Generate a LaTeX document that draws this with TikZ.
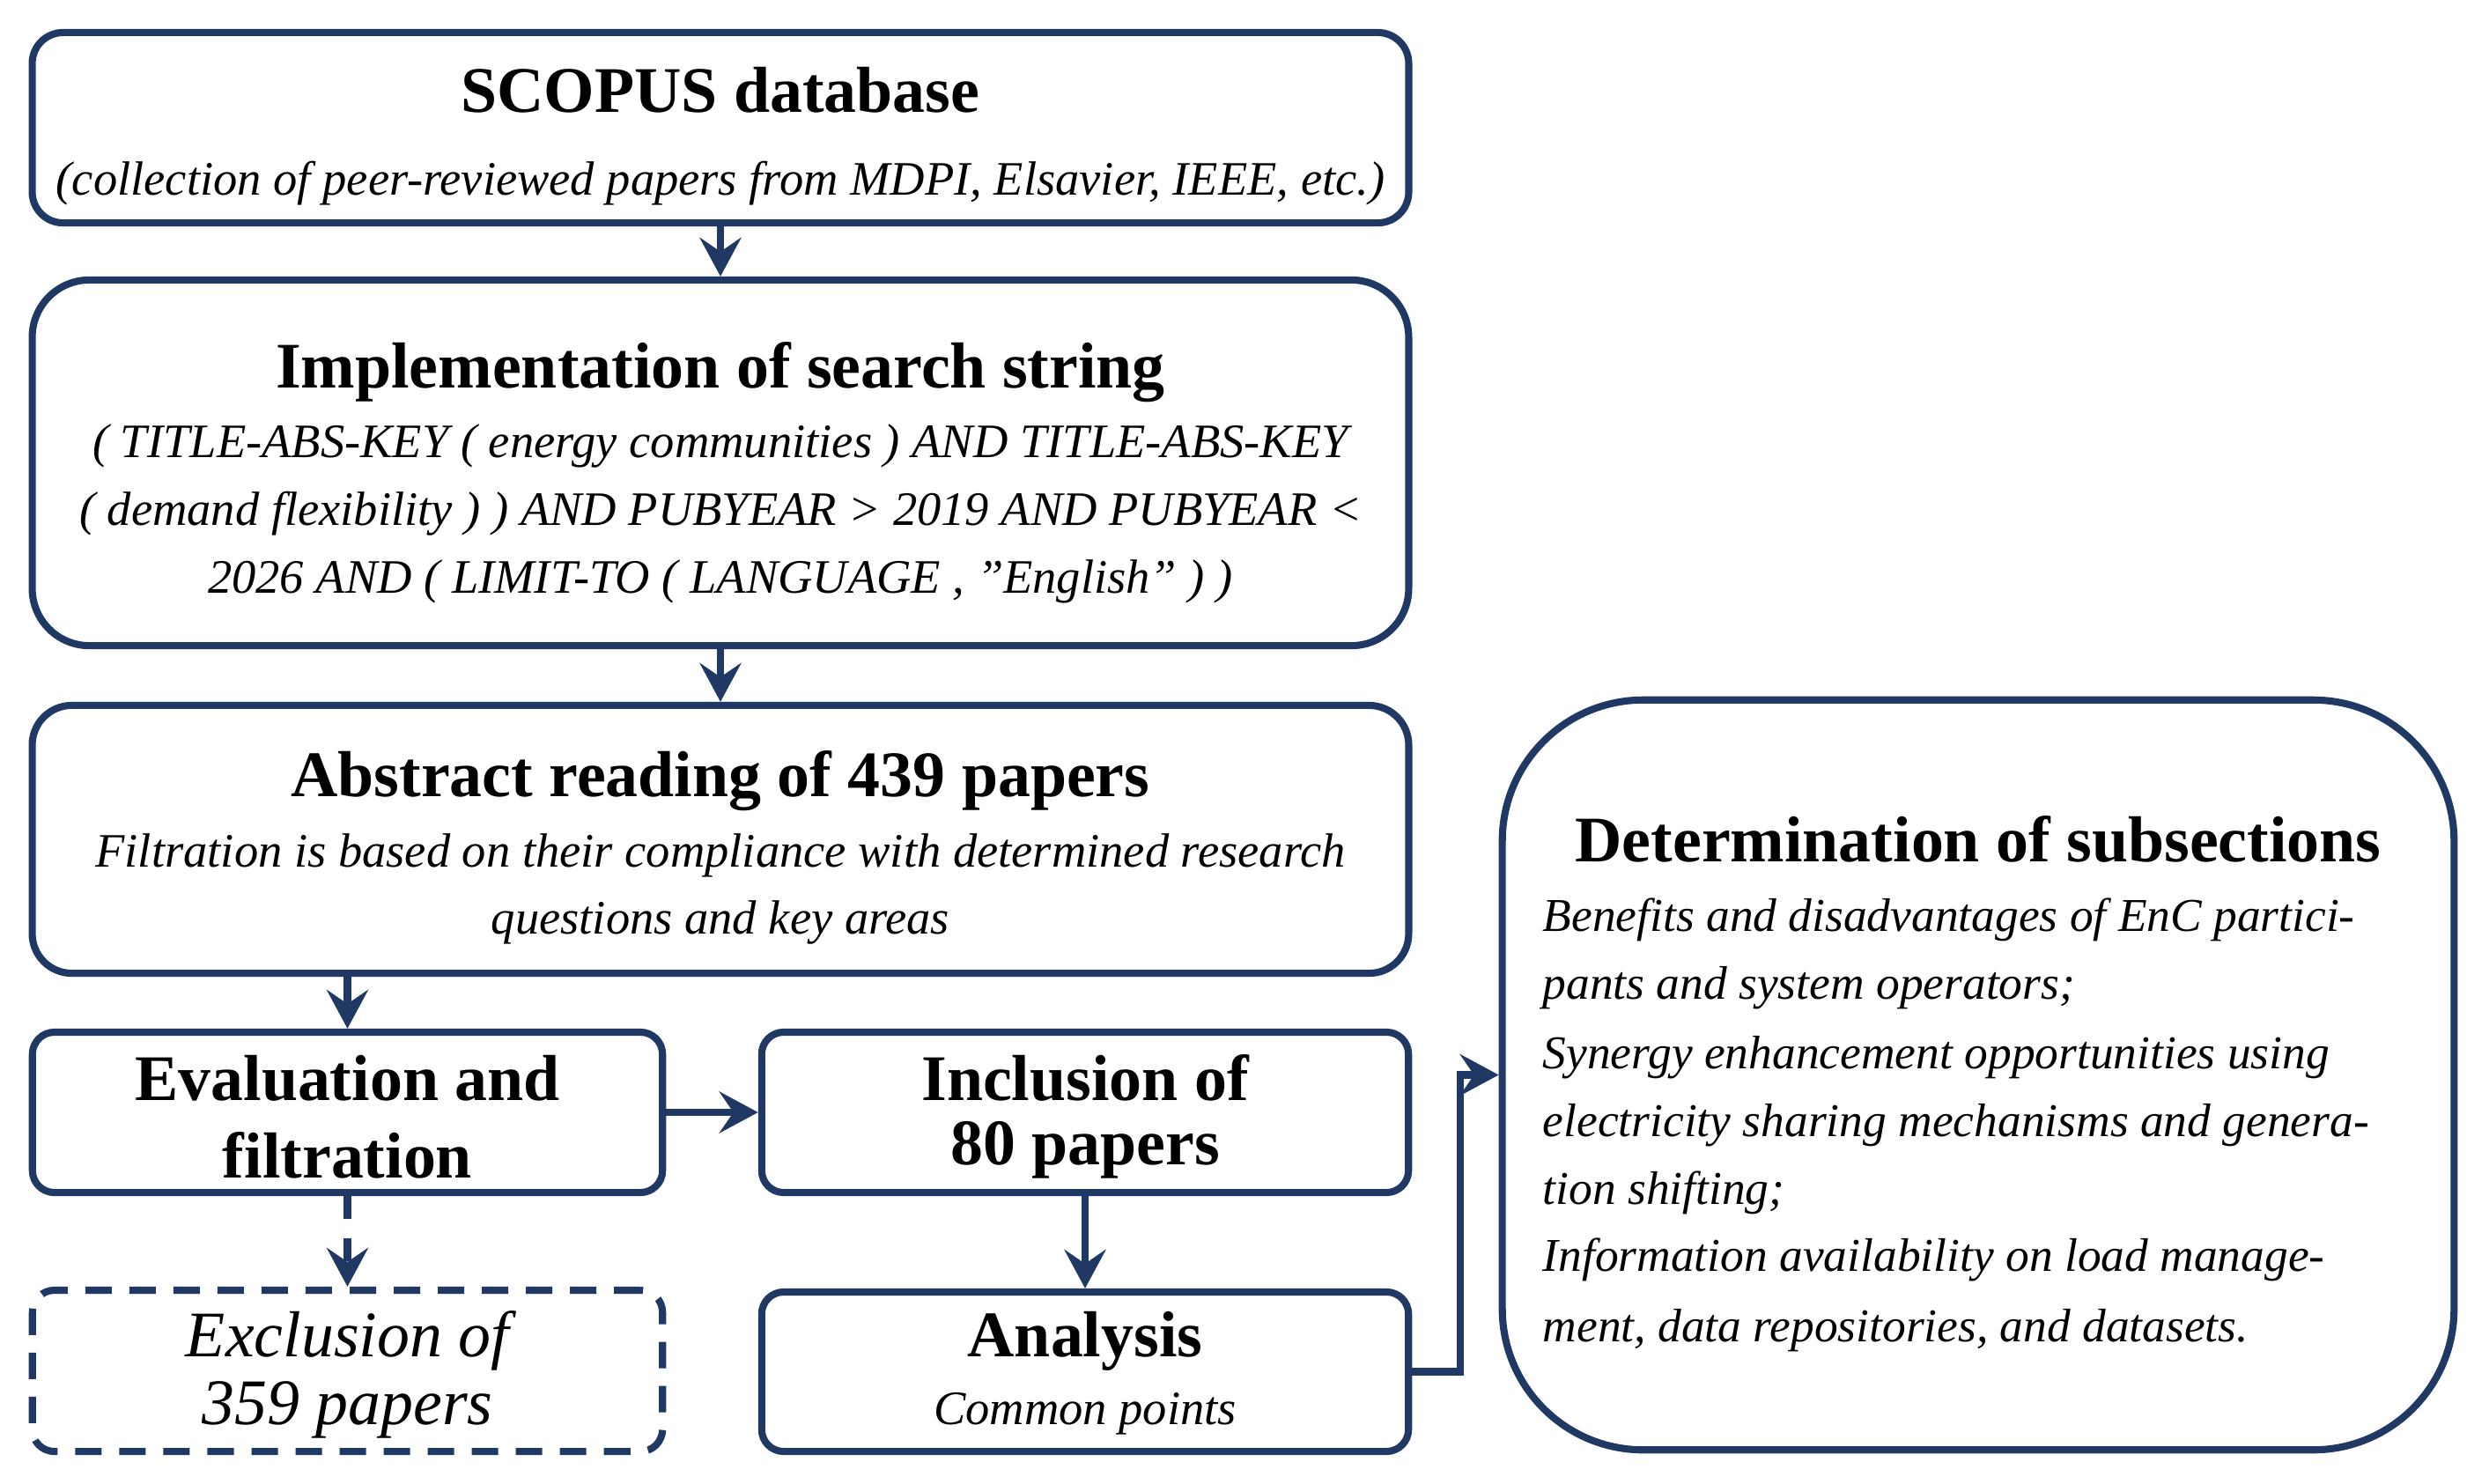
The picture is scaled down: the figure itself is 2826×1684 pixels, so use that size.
\documentclass[tikz,border=0pt]{standalone}
\usepackage{fontspec}
\setmainfont{Liberation Serif}
\usetikzlibrary{arrows.meta}
\definecolor{navy}{RGB}{31,56,100}
\begin{document}
\begin{tikzpicture}[x=0.01cm,y=-0.01cm,
  box/.style={draw=navy, line width=2.3pt, rounded corners=#1, inner sep=0pt, fill=white},
  box/.default=0.25cm,
  ttl/.style={font=\fontsize{21}{25}\selectfont\bfseries, anchor=base, inner sep=0pt},
  bdy/.style={font=\fontsize{15.5}{22}\selectfont\itshape, anchor=base, inner sep=0pt},
  bdyl/.style={font=\fontsize{15.2}{22}\selectfont\itshape, anchor=base west, inner sep=0pt},
  exc/.style={font=\fontsize{21}{25}\selectfont\itshape, anchor=base, inner sep=0pt},
  arr/.style={draw=navy, line width=2.3pt, -{Stealth[length=0.44cm,width=0.47cm,inset=0.16cm]}},
  darr/.style={arr, dash pattern=on 0.26cm off 0.22cm}]
\useasboundingbox (0,0) rectangle (2826,1684);
% boxes
\node[box=0.35cm, minimum width=15.62cm, minimum height=2.16cm] (scopus) at (818,145) {};
\node[box=0.65cm, minimum width=15.62cm, minimum height=4.15cm] (impl) at (818,525.5) {};
\node[box=0.45cm, minimum width=15.62cm, minimum height=3.04cm] (abs) at (818,953) {};
\node[box, minimum width=7.15cm, minimum height=1.82cm] (eval) at (394.5,1263) {};
\node[box, minimum width=7.34cm, minimum height=1.82cm] (incl) at (1232,1263) {};
\node[box, dash pattern=on 0.3cm off 0.2cm, minimum width=7.15cm, minimum height=1.83cm] (excl) at (394.5,1556.5) {};
\node[box, minimum width=7.34cm, minimum height=1.81cm] (anal) at (1232,1557.5) {};
\node[box=1.6cm, minimum width=10.8cm, minimum height=8.51cm] (det) at (2246,1220.5) {};
% texts
\node[ttl] (t1) at (818,127) {SCOPUS database};
\node[bdy] (t1a) at (818,221) {(collection of peer-reviewed papers from MDPI, Elsavier, IEEE, etc.)};
\node[ttl] (t2) at (818,440) {Implementation of search string};
\node[bdy] (t2a) at (818,519) {( TITLE-ABS-KEY ( energy communities ) AND TITLE-ABS-KEY};
\node[bdy] (t2b) at (818,596) {( demand flexibility ) ) AND PUBYEAR > 2019 AND PUBYEAR <};
\node[bdy] (t2c) at (818,673) {2026 AND ( LIMIT-TO ( LANGUAGE , "English" ) )};
\node[ttl] (t3) at (818,904) {Abstract reading of 439 papers};
\node[bdy] (t3a) at (818,984) {Filtration is based on their compliance with determined research};
\node[bdy] (t3b) at (818,1060) {questions and key areas};
\node[ttl] (t4) at (394.5,1249) {Evaluation and};
\node[ttl] (t4a) at (394.5,1337) {filtration};
\node[ttl] (t5) at (1232,1249) {Inclusion of};
\node[ttl] (t5a) at (1232,1322) {80 papers};
\node[exc] (t6) at (394.5,1540) {Exclusion of};
\node[exc] (t6a) at (394.5,1617) {359 papers};
\node[ttl] (t7) at (1232,1540) {Analysis};
\node[bdy] (t7a) at (1232,1617) {Common points};
\node[ttl] (t8) at (2246,978) {Determination of subsections};
\node[bdyl] (l1) at (1751,1057) {Benefits and disadvantages of EnC partici-};
\node[bdyl] (l2) at (1751,1134) {pants and system operators;};
\node[bdyl] (l3) at (1751,1213) {Synergy enhancement opportunities using};
\node[bdyl] (l4) at (1751,1290) {electricity sharing mechanisms and genera-};
\node[bdyl] (l5) at (1751,1367) {tion shifting;};
\node[bdyl] (l6) at (1751,1443) {Information availability on load manage-};
\node[bdyl] (l7) at (1751,1523) {ment, data repositories, and datasets.};
% connectors
\draw[arr] (scopus) -- (impl);
\draw[arr] (impl) -- (abs);
\draw[arr] (abs.south -| eval.north) -- (eval.north);
\draw[arr] (eval) -- (incl);
\draw[darr] (eval) -- (excl);
\draw[arr] (incl) -- (anal);
\draw[arr] (anal.east) -- ++(55,0) |- (det.west);
\end{tikzpicture}
\end{document}
